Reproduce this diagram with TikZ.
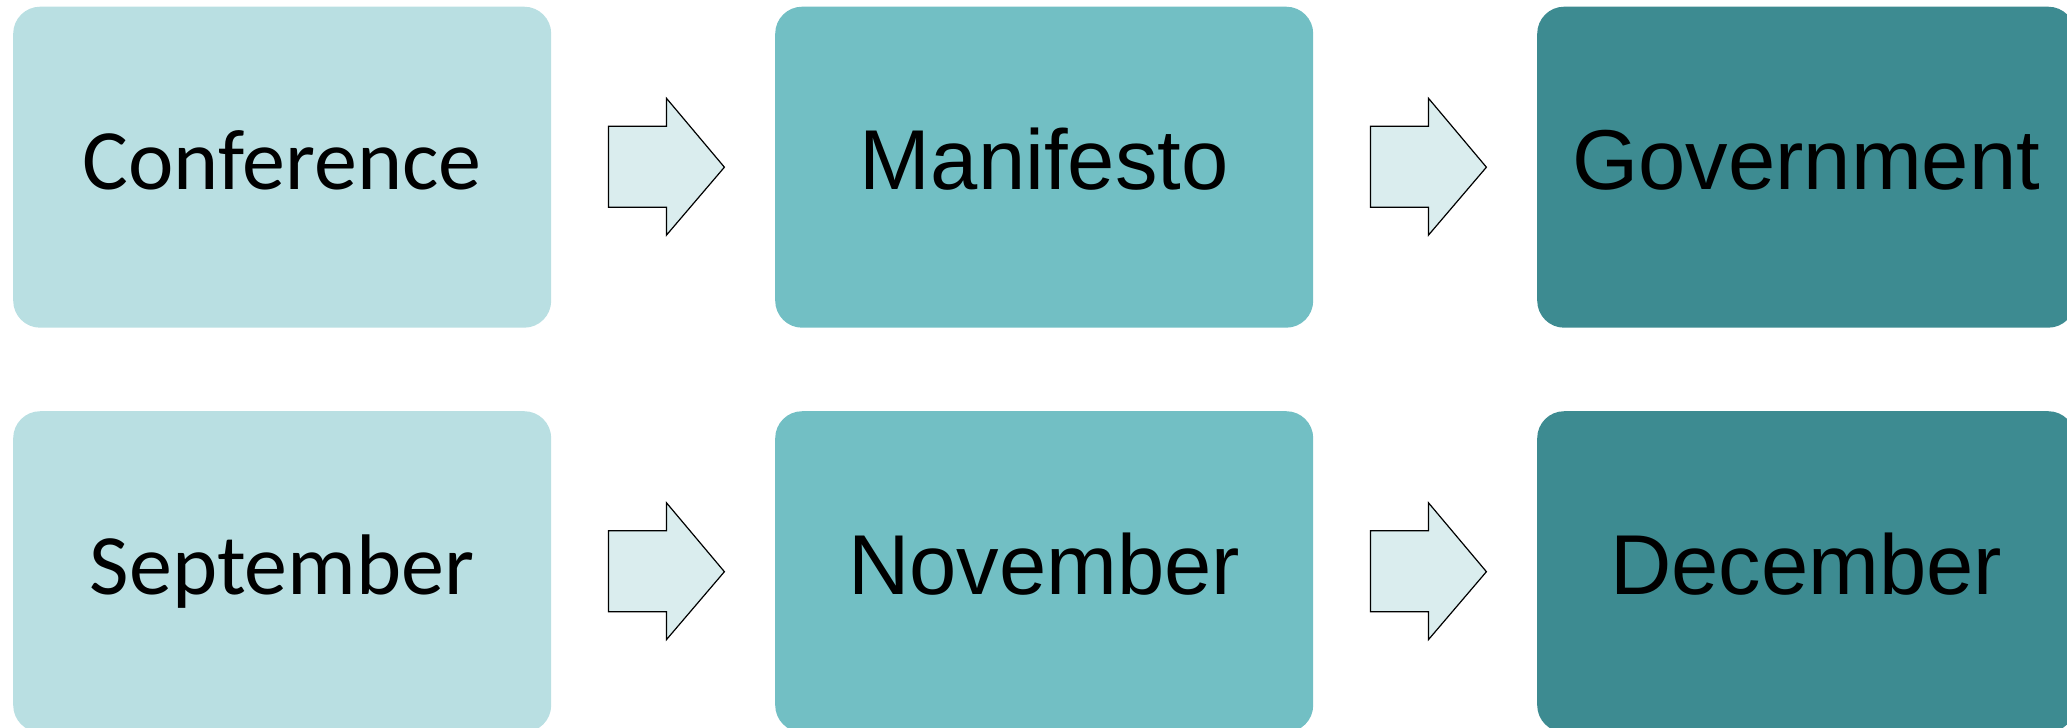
\documentclass[tikz,border=0pt]{standalone}
\usepackage{fontspec}
\setmainfont{Liberation Sans}
\newfontfamily\segoe{Carlito}
\usetikzlibrary{calc}
\definecolor{cone}{HTML}{B9DFE2}
\definecolor{ctwo}{HTML}{72BFC4}
\definecolor{cthree}{HTML}{3D8B91}
\definecolor{carrow}{HTML}{DAEDEE}
\tikzset{
  boxbase/.style={rounded corners=27pt, minimum width=538pt, minimum height=321pt,
    inner sep=0pt, text height=55pt, text depth=10pt, anchor=north west, text=black},
  boxa/.style={boxbase, fill=cone, font=\segoe\fontsize{86}{95}\selectfont},
  boxb/.style={boxbase, fill=ctwo, font=\fontsize{85}{95}\selectfont},
  boxc/.style={boxbase, fill=cthree, font=\fontsize{85}{95}\selectfont},
  arrowshape/.style={fill=carrow, draw=black, line width=1.2pt, line join=miter},
}
\newcommand{\fatarrow}[1]{%
  \draw[arrowshape] ($(#1.east)+(57,-41)$) -- ++(58,0) -- ++(0,-28) -- ++(58,69)
    -- ++(-58,68) -- ++(0,-28) -- ++(-58,0) -- cycle;}
\begin{document}
\begin{tikzpicture}[x=1pt,y=-1pt]
\useasboundingbox (0,0) rectangle (2067,728);
\node[boxa] (conf) at (13,6.5) {Conference};
\node[boxb] (mani) at (775,6.5) {Manifesto};
\node[boxc] (gov)  at (1537,6.5) {Government};
\node[boxa] (sep) at (13,411) {September};
\node[boxb] (nov) at (775,411) {November};
\node[boxc] (dec) at (1537,411) {December};
\fatarrow{conf}
\fatarrow{mani}
\fatarrow{sep}
\fatarrow{nov}
\end{tikzpicture}
\end{document}
